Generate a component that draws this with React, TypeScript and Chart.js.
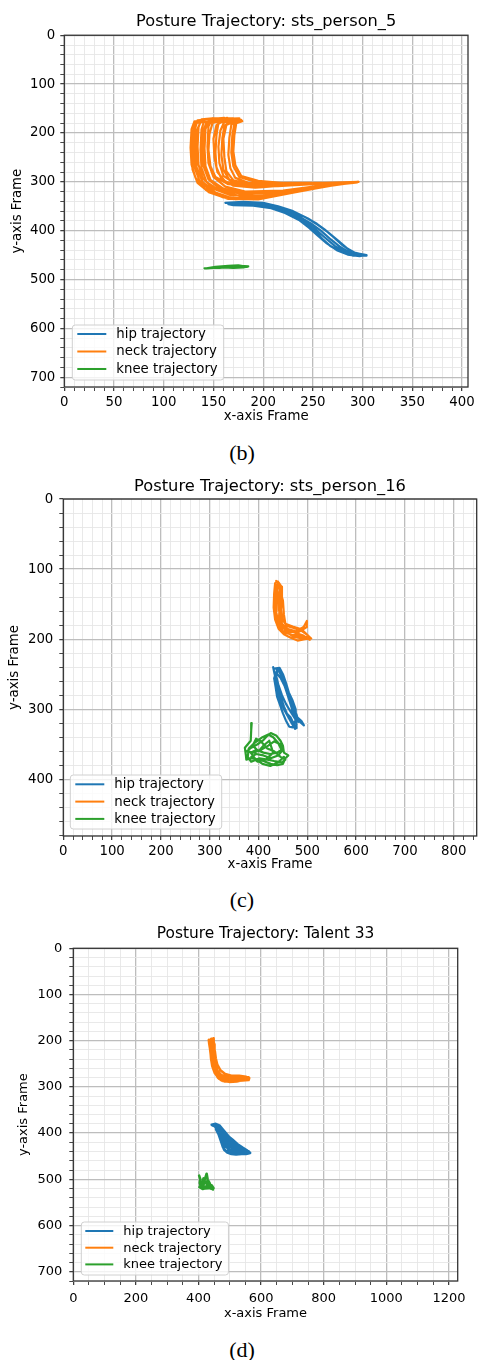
import React, { useEffect, useRef } from "react";
import { Chart, registerables } from "chart.js";

Chart.register(...registerables);

type P = [number, number];

// ---------- shared text / colours ----------
const SERIES_LABELS = ["hip trajectory", "neck trajectory", "knee trajectory"];
const SERIES_COLORS = ["#1f77b4", "#ff7f0e", "#2ca02c"];
const X_TITLE = "x-axis Frame";
const Y_TITLE = "y-axis Frame";

// ---------- (b) sts_person_5 ----------
const B_TITLE = "Posture Trajectory: sts_person_5";
const B_CAPTION = "(b)";
const B_X_TICKS = [0, 50, 100, 150, 200, 250, 300, 350, 400];
const B_Y_TICKS = [0, 100, 200, 300, 400, 500, 600, 700];
const B_X_MINOR = 10;
const B_Y_MINOR = 20;
const B_X_MAX = 406;
const B_Y_MAX = 720;
const B_HIP: P[] = [
  [162, 343], [180, 341], [200, 343], [215, 350], [230, 360], [245, 375], [255, 388], [265, 403], [275, 420], [285, 437], [293, 446], [304, 450],
  [300, 451], [288, 446], [278, 434], [268, 418], [258, 400], [248, 385], [235, 370], [220, 359], [205, 350], [185, 345], [165, 346],
  [170, 348], [190, 349], [208, 354], [222, 364], [236, 378], [246, 394], [255, 410], [264, 426], [274, 440], [285, 449], [297, 452],
  [302, 450], [292, 450], [282, 444], [272, 431], [262, 414], [252, 396], [240, 378], [226, 363], [210, 352], [192, 346], [168, 345],
  [175, 344], [196, 345], [212, 350], [228, 360], [242, 372], [254, 386], [262, 398], [270, 412], [280, 430], [290, 444], [300, 449],
  [304, 451], [290, 451], [278, 443], [268, 432], [260, 418], [253, 402], [243, 384], [230, 368], [214, 356], [194, 348], [172, 347],
];
const B_NECK: P[] = [
  [140, 174], [131, 176], [128, 192], [127, 230], [128, 265], [132, 292], [142, 316], [160, 332], [190, 335], [225, 322], [260, 309], [295, 301],
  [255, 304], [215, 309], [185, 310], [162, 300], [154, 280], [151, 250], [150, 212], [153, 184], [160, 175],
  [149, 170], [138, 172], [135, 188], [134, 228], [135, 265], [139, 292], [150, 314], [168, 328], [200, 328], [235, 316], [270, 306], [293, 301],
  [255, 304], [215, 306], [188, 305], [170, 297], [163, 278], [161, 250], [160, 212], [163, 184], [171, 176],
  [153, 178], [143, 179], [140, 194], [139, 232], [140, 268], [145, 295], [157, 315], [178, 325], [215, 321], [255, 309], [290, 302],
  [250, 303], [210, 304], [185, 302], [172, 292], [167, 272], [165, 245], [166, 210], [168, 183], [176, 170],
  [145, 172], [134, 174], [131, 195], [130, 235], [131, 270], [136, 298], [148, 320], [168, 334], [200, 331], [240, 316], [275, 305], [296, 300],
  [262, 302], [222, 305], [190, 308], [165, 305], [152, 290], [147, 268], [145, 235], [146, 202], [149, 180], [158, 175],
  [161, 169], [149, 171], [145, 186], [144, 228], [145, 262], [150, 290], [162, 310], [182, 320], [220, 318], [258, 308], [291, 302],
  [255, 302], [215, 302], [190, 299], [176, 290], [170, 268], [168, 240], [169, 205], [171, 181], [178, 173],
  [151, 176], [137, 178], [133, 196], [132, 232], [133, 270], [139, 300], [152, 322], [172, 336], [205, 332], [240, 318], [280, 304], [294, 301],
  [260, 303], [225, 306], [195, 309], [172, 304], [160, 288], [156, 262], [155, 228], [157, 195], [161, 177], [170, 170],
  [150, 170], [141, 173], [138, 193], [137, 235], [138, 272], [143, 300], [156, 318], [178, 330], [212, 326], [250, 312], [288, 302],
  [250, 304], [208, 307], [182, 306], [166, 296], [160, 275], [158, 245], [159, 210], [161, 185], [167, 178],
  [140, 177], [132, 180], [129, 202], [128, 240], [129, 275], [134, 302], [146, 322], [165, 335], [195, 336], [230, 322], [265, 309], [292, 301],
  [260, 304], [222, 308], [192, 312], [170, 308], [158, 294], [153, 270], [152, 240], [153, 205], [155, 180], [164, 169],
  [157, 173], [145, 176], [142, 192], [141, 232], [142, 268], [147, 296], [160, 314], [182, 324], [222, 319], [262, 307], [292, 301],
  [255, 302], [218, 302], [195, 298], [178, 288], [172, 266], [170, 238], [171, 205], [173, 180], [179, 176],
];
const B_KNEE: P[] = [
  [141, 477], [150, 476], [160, 474], [170, 473], [178, 472], [185, 473], [180, 475], [170, 476], [160, 475], [150, 476], [143, 477],
  [152, 474], [165, 472], [175, 471], [184, 474], [176, 474], [166, 474], [156, 476], [146, 476],
];

// ---------- (c) sts_person_16 ----------
const C_TITLE = "Posture Trajectory: sts_person_16";
const C_CAPTION = "(c)";
const C_X_TICKS = [0, 100, 200, 300, 400, 500, 600, 700, 800];
const C_Y_TICKS = [0, 100, 200, 300, 400];
const C_X_MINOR = 20;
const C_Y_MINOR = 20;
const C_X_MAX = 847;
const C_Y_MAX = 481;
const C_HIP: P[] = [
  [430, 240], [433, 250], [436, 262], [440, 275], [445, 288], [452, 300], [460, 310], [468, 320], [475, 328],
  [478, 322], [474, 310], [468, 298], [462, 285], [456, 272], [450, 260], [445, 250], [440, 243],
  [436, 252], [441, 266], [448, 280], [456, 292], [466, 304], [475, 314], [482, 318],
  [478, 308], [470, 296], [463, 282], [457, 268], [452, 256], [446, 246], [438, 244],
  [432, 256], [435, 268], [438, 282], [444, 294], [450, 306], [456, 316], [463, 325], [470, 326],
  [474, 318], [480, 312], [488, 317], [493, 323], [485, 318], [476, 312], [470, 305], [466, 292], [460, 280], [453, 266], [445, 255], [436, 248],
  [434, 262], [440, 270], [446, 283], [452, 296], [458, 306], [466, 312], [473, 322], [478, 327],
  [476, 300], [470, 288], [462, 276], [456, 262], [450, 250], [443, 241], [432, 242],
];
const C_NECK: P[] = [
  [436, 117], [441, 119], [447, 125], [448, 140], [446, 158], [449, 172], [458, 181], [472, 184], [488, 188], [500, 194], [508, 199], [495, 200], [480, 202],
  [466, 198], [452, 193], [441, 185], [434, 172], [431, 155], [432, 135], [434, 120], [439, 118], [445, 130], [444, 150], [442, 168], [447, 180], [462, 186],
  [482, 190], [498, 183], [499, 174], [493, 182], [478, 189], [462, 190], [450, 184], [440, 175], [436, 160], [437, 140], [438, 122], [443, 128], [450, 145],
  [452, 165], [455, 178], [470, 182], [488, 186], [503, 196], [488, 199], [470, 196], [455, 188], [446, 176], [442, 158], [441, 138], [437, 124],
  [433, 140], [435, 165], [440, 180], [452, 190], [470, 194], [490, 196], [505, 201], [492, 195], [475, 191], [460, 186], [448, 178], [444, 160], [446, 135], [440, 118],
];
const C_KNEE: P[] = [
  [386, 320], [385, 330], [384, 345], [378, 350], [372, 355], [374, 365], [375, 372], [385, 370], [398, 372], [410, 374], [425, 378], [438, 380], [450, 378],
  [455, 370], [461, 366], [452, 362], [450, 352], [445, 345], [437, 338], [425, 334], [418, 338], [410, 344], [398, 350], [385, 355], [376, 360], [390, 362],
  [405, 358], [420, 352], [432, 346], [445, 350], [450, 358], [440, 366], [425, 370], [410, 366], [395, 364], [385, 368], [398, 375], [415, 372], [430, 362],
  [422, 345], [410, 352], [400, 360], [388, 352], [395, 342], [405, 346], [418, 356], [432, 360], [445, 368], [455, 372], [448, 376], [432, 374], [418, 372],
  [402, 370], [385, 375], [378, 368], [380, 356], [392, 348], [408, 340], [420, 336], [430, 340], [440, 348], [447, 358], [438, 362], [424, 364], [410, 362],
  [396, 358], [384, 362], [392, 370], [408, 378], [424, 381], [440, 376], [452, 368],
];

// ---------- (d) Talent 33 ----------
const D_TITLE = "Posture Trajectory: Talent 33";
const D_CAPTION = "(d)";
const D_X_TICKS = [0, 200, 400, 600, 800, 1000, 1200];
const D_Y_TICKS = [0, 100, 200, 300, 400, 500, 600, 700];
const D_X_MINOR = 50;
const D_Y_MINOR = 20;
const D_X_MAX = 1228;
const D_Y_MAX = 720;
const D_HIP: P[] = [
  [442, 382], [455, 380], [468, 384], [476, 394], [490, 404], [508, 414], [525, 424], [542, 432], [556, 438], [565, 443],
  [552, 445], [535, 444], [518, 443], [500, 441], [486, 438], [478, 430], [472, 418], [466, 405], [460, 393], [452, 385], [444, 383],
  [456, 386], [464, 396], [470, 408], [478, 420], [488, 430], [502, 436], [520, 440], [540, 441], [558, 442],
  [548, 437], [532, 430], [516, 421], [502, 412], [490, 402], [480, 394], [470, 386], [462, 382],
  [466, 392], [474, 404], [482, 416], [494, 426], [508, 432], [525, 436], [545, 438], [562, 441],
  [556, 443], [538, 445], [520, 446], [505, 445], [492, 442], [482, 436], [476, 426], [470, 414], [464, 402], [456, 392],
  [468, 388], [480, 398], [495, 410], [510, 420], [528, 430], [548, 436], [562, 440],
  [545, 442], [525, 440], [508, 438], [494, 434], [484, 425], [478, 412], [472, 400], [464, 390], [450, 382],
  [472, 395], [484, 406], [498, 418], [514, 428], [532, 434], [550, 440], [536, 437], [518, 432], [502, 424], [488, 414], [478, 404],
  [482, 424], [496, 430], [512, 426], [500, 420], [486, 418],
];
const D_NECK: P[] = [
  [441, 196], [447, 195], [449, 205], [447, 220], [449, 238], [453, 252], [460, 265], [472, 274], [492, 279], [520, 280], [548, 279], [562, 281],
  [560, 285], [540, 286], [515, 287], [492, 288], [474, 286], [462, 280], [452, 268], [445, 252], [440, 235], [437, 218], [434, 205], [433, 198],
  [438, 199], [441, 212], [443, 228], [446, 245], [450, 258], [458, 270], [470, 280], [488, 284], [512, 285], [538, 283], [556, 282],
  [552, 278], [530, 276], [505, 276], [485, 272], [470, 264], [460, 252], [455, 238], [452, 222], [451, 208], [446, 199],
  [436, 205], [438, 220], [440, 238], [444, 255], [452, 270], [465, 282], [482, 288], [500, 287], [525, 283], [545, 281], [560, 279],
  [548, 284], [522, 288], [498, 289], [478, 287], [465, 280], [456, 268], [450, 255], [448, 240], [445, 222], [443, 205], [440, 197],
  [444, 210], [445, 228], [447, 246], [454, 262], [464, 272], [480, 278], [505, 280], [530, 279], [555, 280],
];
const D_KNEE: P[] = [
  [402, 492], [406, 500], [404, 508], [408, 515], [418, 518], [430, 516], [440, 520], [448, 519], [442, 513], [433, 510], [429, 500], [426, 488],
  [423, 494], [418, 504], [409, 511], [403, 517], [414, 521], [425, 515], [436, 509], [431, 503], [421, 507], [413, 513], [422, 517], [436, 518],
  [446, 522], [438, 516], [428, 512], [420, 503], [416, 498], [412, 508], [410, 517], [420, 520], [432, 519],
];

// ---------- helpers ----------
const FONT_FAMILY = '"DejaVu Sans", "Liberation Sans", sans-serif';

function stepValues(step: number, max: number): number[] {
  const out: number[] = [];
  for (let i = 0; i * step <= max + 1e-9; i++) out.push(i * step);
  return out;
}

const frameLegendPlugin = {
  id: "frameLegend",
  afterDatasetsDraw(chart: any, _args: any, opts: any) {
    const { ctx, chartArea: a } = chart;
    ctx.save();
    ctx.strokeStyle = "#333";
    ctx.lineWidth = 1.3;
    ctx.strokeRect(a.left, a.top, a.right - a.left, a.bottom - a.top);
    ctx.font = `${opts.fontSize}px ${FONT_FAMILY}`;
    const ds = chart.data.datasets;
    let maxW = 0;
    ds.forEach((d: any) => {
      maxW = Math.max(maxW, ctx.measureText(d.label).width);
    });
    const w = opts.textX + maxW + 6;
    const h = opts.height;
    const x0 = a.left + opts.insetLeft;
    const y0 = a.bottom - opts.insetBottom - h;
    const r = 3;
    ctx.beginPath();
    ctx.moveTo(x0 + r, y0);
    ctx.lineTo(x0 + w - r, y0);
    ctx.arcTo(x0 + w, y0, x0 + w, y0 + r, r);
    ctx.lineTo(x0 + w, y0 + h - r);
    ctx.arcTo(x0 + w, y0 + h, x0 + w - r, y0 + h, r);
    ctx.lineTo(x0 + r, y0 + h);
    ctx.arcTo(x0, y0 + h, x0, y0 + h - r, r);
    ctx.lineTo(x0, y0 + r);
    ctx.arcTo(x0, y0, x0 + r, y0, r);
    ctx.closePath();
    ctx.fillStyle = "rgba(255,255,255,0.8)";
    ctx.fill();
    ctx.strokeStyle = "#d0d0d0";
    ctx.lineWidth = 1;
    ctx.stroke();
    ds.forEach((d: any, i: number) => {
      const y = y0 + opts.firstY + i * opts.gap;
      ctx.strokeStyle = d.borderColor;
      ctx.lineWidth = 2;
      ctx.beginPath();
      ctx.moveTo(x0 + opts.handleX0, y);
      ctx.lineTo(x0 + opts.handleX1, y);
      ctx.stroke();
      ctx.fillStyle = "#000";
      ctx.textBaseline = "middle";
      ctx.textAlign = "left";
      ctx.fillText(d.label, x0 + opts.textX, y + 0.5);
    });
    ctx.restore();
  },
};

type Spec = {
  title: string;
  caption: string;
  series: P[][];
  xTicks: number[];
  yTicks: number[];
  xMinor: number;
  yMinor: number;
  xMax: number;
  yMax: number;
  top: number;
  height: number;
  captionY: number;
  titleSize: number;
  tickSize: number;
  lineWidth: number;
  titlePad: { top: number; bottom: number };
  padRight: number;
  padBottom: number;
  yAxisWidth: number;
  xAxisHeight: number;
  yTitlePad: number;
  xTitlePad: number;
  yTickPad: number;
  xTickPad: number;
  legend: any;
};

function buildConfig(s: Spec): any {
  const xAll = stepValues(s.xMinor, s.xMax);
  const yAll = stepValues(s.yMinor, s.yMax);
  const tickFont = { family: FONT_FAMILY, size: s.tickSize };
  const majorX = (v: number) => s.xTicks.includes(v);
  const majorY = (v: number) => s.yTicks.includes(v);
  const gridOpts = (isMajor: (v: number) => boolean) => ({
    color: (c: any) => (c.tick && isMajor(c.tick.value) ? "#bdbdbd" : "#e6e6e6"),
    lineWidth: (c: any) => (c.tick && isMajor(c.tick.value) ? 1.3 : 0.9),
    tickLength: 4,
    tickColor: "#333",
    tickWidth: (c: any) => (c.tick && isMajor(c.tick.value) ? 1.2 : 0.9),
    drawTicks: true,
  });
  return {
    type: "scatter",
    data: {
      datasets: s.series.map((pts, i) => ({
        label: SERIES_LABELS[i],
        data: pts.map(([x, y]) => ({ x, y })),
        showLine: true,
        borderColor: SERIES_COLORS[i],
        backgroundColor: SERIES_COLORS[i],
        borderWidth: s.lineWidth,
        pointRadius: 0,
        pointHoverRadius: 0,
        tension: 0,
        borderJoinStyle: "round",
        borderCapStyle: "round",
      })),
    },
    options: {
      responsive: false,
      animation: false,
      events: [],
      layout: { padding: { top: 0, left: 0, right: s.padRight, bottom: s.padBottom } },
      plugins: {
        legend: { display: false },
        tooltip: { enabled: false },
        title: {
          display: true,
          text: s.title,
          fullSize: false,
          color: "#000",
          font: { family: FONT_FAMILY, size: s.titleSize, weight: "normal" },
          padding: s.titlePad,
        },
        frameLegend: s.legend,
      },
      scales: {
        x: {
          type: "linear",
          position: "bottom",
          min: 0,
          max: s.xMax,
          afterBuildTicks: (sc: any) => {
            sc.ticks = xAll.map((v) => ({ value: v }));
          },
          afterFit: (sc: any) => {
            sc.height = s.xAxisHeight;
            sc.paddingLeft = 0;
            sc.paddingRight = 0;
          },
          ticks: {
            autoSkip: false,
            maxRotation: 0,
            minRotation: 0,
            color: "#000",
            font: tickFont,
            padding: s.xTickPad,
            callback: (v: number) => (majorX(v) ? String(v) : ""),
          },
          grid: gridOpts(majorX),
          border: { display: false },
          title: {
            display: true,
            text: X_TITLE,
            color: "#000",
            font: { family: FONT_FAMILY, size: s.tickSize },
            padding: { top: 0, bottom: s.xTitlePad },
          },
        },
        y: {
          type: "linear",
          position: "left",
          reverse: true,
          min: 0,
          max: s.yMax,
          afterBuildTicks: (sc: any) => {
            sc.ticks = yAll.map((v) => ({ value: v }));
          },
          afterFit: (sc: any) => {
            sc.width = s.yAxisWidth;
            sc.paddingTop = 0;
            sc.paddingBottom = 0;
          },
          ticks: {
            autoSkip: false,
            color: "#000",
            font: tickFont,
            padding: s.yTickPad,
            callback: (v: number) => (majorY(v) ? String(v) : ""),
          },
          grid: gridOpts(majorY),
          border: { display: false },
          title: {
            display: true,
            text: Y_TITLE,
            color: "#000",
            font: { family: FONT_FAMILY, size: s.tickSize },
            padding: { top: s.yTitlePad, bottom: 0 },
          },
        },
      },
    },
    plugins: [frameLegendPlugin],
  };
}

const SPECS: Spec[] = [
  {
    title: B_TITLE, caption: B_CAPTION, series: [B_HIP, B_NECK, B_KNEE],
    xTicks: B_X_TICKS, yTicks: B_Y_TICKS, xMinor: B_X_MINOR, yMinor: B_Y_MINOR, xMax: B_X_MAX, yMax: B_Y_MAX,
    top: 0, height: 432, captionY: 453, titleSize: 16.2, tickSize: 13.3, lineWidth: 2.2,
    titlePad: { top: 12.2, bottom: 3.6 }, padRight: 10, padBottom: 5,
    yAxisWidth: 64.3, xAxisHeight: 40, yTitlePad: 9.5, xTitlePad: 2, yTickPad: 5, xTickPad: 4,
    legend: { fontSize: 13.3, insetLeft: 8, insetBottom: 7, height: 55, firstY: 9, gap: 17.5, handleX0: 5, handleX1: 34, textX: 44 },
  },
  {
    title: C_TITLE, caption: C_CAPTION, series: [C_HIP, C_NECK, C_KNEE],
    xTicks: C_X_TICKS, yTicks: C_Y_TICKS, xMinor: C_X_MINOR, yMinor: C_Y_MINOR, xMax: C_X_MAX, yMax: C_Y_MAX,
    top: 466, height: 413, captionY: 900, titleSize: 16.3, tickSize: 13.3, lineWidth: 2.2,
    titlePad: { top: 11.1, bottom: 2.4 }, padRight: 1.3, padBottom: 3,
    yAxisWidth: 63.3, xAxisHeight: 40, yTitlePad: 7, xTitlePad: 3.4, yTickPad: 6, xTickPad: 4,
    legend: { fontSize: 13.3, insetLeft: 7, insetBottom: 7, height: 54, firstY: 9.3, gap: 17.3, handleX0: 5, handleX1: 34, textX: 44 },
  },
  {
    title: D_TITLE, caption: D_CAPTION, series: [D_HIP, D_NECK, D_KNEE],
    xTicks: D_X_TICKS, yTicks: D_Y_TICKS, xMinor: D_X_MINOR, yMinor: D_Y_MINOR, xMax: D_X_MAX, yMax: D_Y_MAX,
    top: 915, height: 410, captionY: 1350, titleSize: 15.4, tickSize: 13, lineWidth: 2.6,
    titlePad: { top: 10.1, bottom: 4.7 }, padRight: 20.3, padBottom: 2,
    yAxisWidth: 73.3, xAxisHeight: 42, yTitlePad: 15.5, xTitlePad: 1.9, yTickPad: 7, xTickPad: 6,
    legend: { fontSize: 13, insetLeft: 8, insetBottom: 6, height: 53, firstY: 9, gap: 16.7, handleX0: 4, handleX1: 32, textX: 42 },
  },
];

function Panel({ spec }: { spec: Spec }) {
  const ref = useRef<HTMLCanvasElement | null>(null);
  useEffect(() => {
    if (!ref.current) return;
    const chart = new Chart(ref.current, buildConfig(spec));
    return () => chart.destroy();
  }, [spec]);
  return (
    <div style={{ position: "absolute", left: 0, top: spec.top, width: 478, height: spec.height }}>
      <canvas ref={ref} width={478} height={spec.height} style={{ display: "block", width: 478, height: spec.height }} />
    </div>
  );
}

export default function App() {
  return (
    <div style={{ position: "absolute", left: 0, top: 0, width: 478, height: 1360, background: "#fff", overflow: "hidden" }}>
      {SPECS.map((s, i) => (
        <Panel key={i} spec={s} />
      ))}
      {SPECS.map((s, i) => (
        <div
          key={"c" + i}
          style={{
            position: "absolute",
            left: 0,
            width: 484,
            top: s.captionY - 12,
            height: 24,
            lineHeight: "24px",
            textAlign: "center",
            fontFamily: '"Liberation Serif", "Times New Roman", serif',
            fontSize: 22,
            color: "#000",
          }}
        >
          {s.caption}
        </div>
      ))}
    </div>
  );
}
